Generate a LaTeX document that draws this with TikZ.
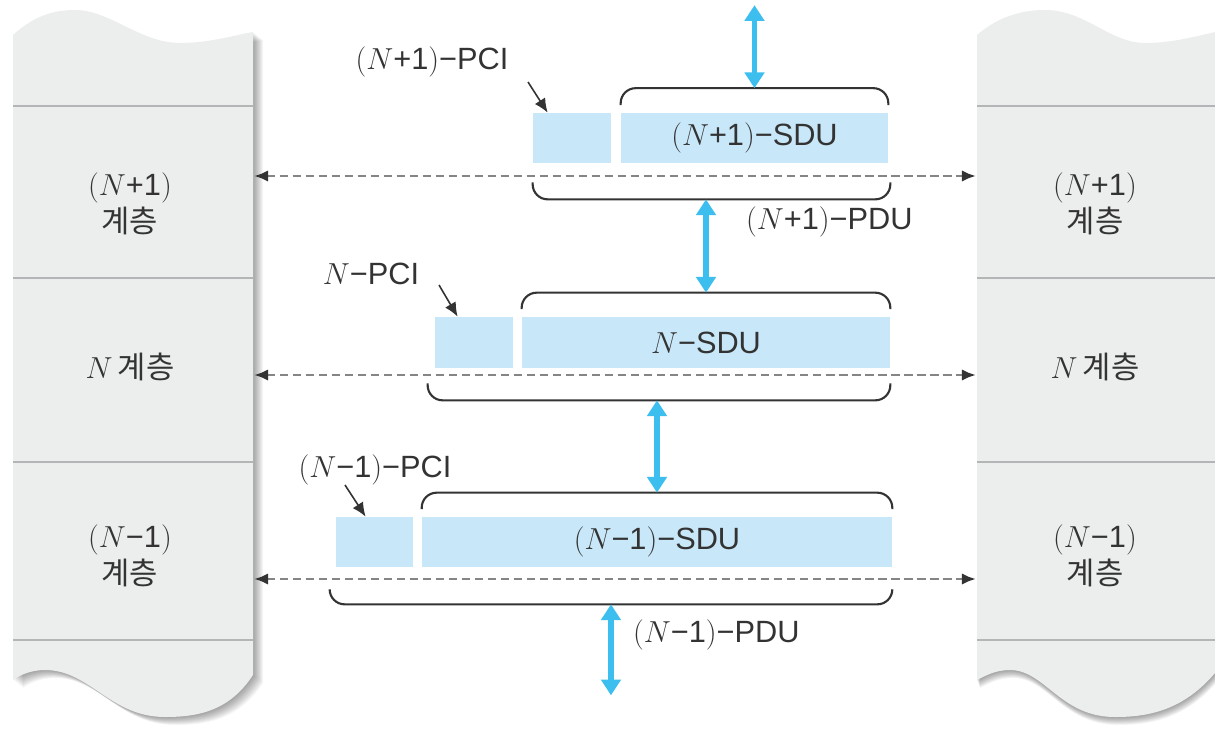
\documentclass[tikz,border=0pt]{standalone}
\usepackage{fontspec}
\setmainfont{Liberation Sans}
\newfontfamily\kr{Noto Sans CJK KR}
\usetikzlibrary{arrows.meta,calc}

\definecolor{panelgray}{HTML}{ECEDED}
\definecolor{rulegray}{HTML}{B3B5B6}
\definecolor{pdublue}{HTML}{C8E8F9}
\definecolor{linkblue}{HTML}{3CBFEE}
\definecolor{inkgray}{HTML}{333333}
\definecolor{dashgray}{HTML}{858585}

% layer panels (x right, y down, one unit per pixel)
\newcommand\panelL{(13,35) .. controls (35,15) and (55,10) .. (75,10)
  .. controls (110,10) and (140,43) .. (180,43)
  .. controls (210,43) and (235,35) .. (253,32) -- (253,675)
  .. controls (230,710) and (200,717) .. (165,717)
  .. controls (110,717) and (90,670) .. (45,670)
  .. controls (30,670) and (18,676) .. (13,680) -- cycle}
\newcommand\panelR{(977,35) .. controls (1000,15) and (1025,10) .. (1045,10)
  .. controls (1085,10) and (1110,43) .. (1145,43)
  .. controls (1175,43) and (1200,35) .. (1225,30) -- (1225,660)
  .. controls (1190,710) and (1150,717) .. (1115,717)
  .. controls (1060,717) and (1045,670) .. (1010,670)
  .. controls (995,670) and (985,676) .. (977,680) -- cycle}

\tikzset{
  every node/.style={text=inkgray, font=\fontsize{17.5}{21}\selectfont},
  layer/.style={align=center},
  databox/.style={fill=pdublue, minimum height=1cm, inner sep=0pt},
  brace/.style={draw=black!80, line width=1.2pt, rounded corners=0.3cm},
  peer/.style={dashgray, line width=1.6pt, dash pattern=on 5pt off 2.4pt,
    {Latex[color=inkgray,length=8pt,width=6.5pt]}-{Latex[color=inkgray,length=8pt,width=6.5pt]}},
  service/.style={linkblue, line width=3pt,
    {Triangle[length=9pt,width=11pt]}-{Triangle[length=9pt,width=11pt]}},
  pointer/.style={inkgray, line width=0.9pt, -{Latex[length=8pt,width=7pt]}},
}

\begin{document}
\begin{tikzpicture}[x=0.02cm, y=-0.02cm]
\clip (0,0) rectangle (1215,728);
\fill[white] (0,0) rectangle (1215,728);

% panels with soft shadow
\foreach \s in {1,...,10}{
  \fill[black, opacity=0.04, shift={(\s,0.8*\s)}] \panelL;
  \fill[black, opacity=0.04, shift={(0.3*\s,0.8*\s)}] \panelR;
}
\fill[panelgray] \panelL;
\fill[panelgray] \panelR;
\foreach \y in {106,278,462,640}{
  \draw[rulegray, line width=1.3pt] (13,\y) -- (253,\y);
  \draw[rulegray, line width=1.3pt] (977,\y) -- (1215,\y);
}

% layer names
\node[layer] (lup) at (130,204) {$(N$+1$)$\\{\kr 계층}};
\node (lmid) at (130,367) {$N$\,{\kr 계층}};
\node[layer] (llow) at (130,556) {$(N$−1$)$\\{\kr 계층}};
\node[layer] (rup) at (1095,204) {$(N$+1$)$\\{\kr 계층}};
\node (rmid) at (1095,367) {$N$\,{\kr 계층}};
\node[layer] (rlow) at (1095,556) {$(N$−1$)$\\{\kr 계층}};

% data units
\node[databox, minimum width=1.56cm] (pci1) at (572,138) {};
\node[databox, minimum width=5.34cm] (sdu1) at (754.5,138) {$(N$+1$)$−SDU};
\node[databox, minimum width=1.56cm, minimum height=1.02cm] (pci2) at (474,342.5) {};
\node[databox, minimum width=7.36cm, minimum height=1.02cm] (sdu2) at (706,342.5) {$N$−SDU};
\node[databox, minimum width=1.54cm] (pci3) at (374.5,542) {};
\node[databox, minimum width=9.4cm] (sdu3) at (657,542) {$(N$−1$)$−SDU};

% SDU braces
\draw[brace] ([yshift=0.15cm]sdu1.north west) |- ([yshift=0.49cm]sdu1.north) -| ([yshift=0.15cm]sdu1.north east);
\draw[brace] ([yshift=0.15cm]sdu2.north west) |- ([yshift=0.48cm]sdu2.north) -| ([yshift=0.15cm]sdu2.north east);
\draw[brace] ([yshift=0.15cm]sdu3.north west) |- ([yshift=0.48cm]sdu3.north) -| ([yshift=0.15cm]sdu3.north east);

% PDU braces
\draw[brace] ([yshift=-0.38cm]pci1.south west) |- ([yshift=-0.72cm]sdu1.south) -| ([xshift=0.04cm,yshift=-0.38cm]sdu1.south east);
\draw[brace] ([xshift=-0.14cm,yshift=-0.3cm]pci2.south west) |- ([yshift=-0.64cm]sdu2.south) -| ([yshift=-0.3cm]sdu2.south east);
\draw[brace] ([xshift=-0.12cm,yshift=-0.46cm]pci3.south west) |- ([yshift=-0.74cm]sdu3.south) -| ([yshift=-0.46cm]sdu3.south east);
\coordinate (pdu1) at ([yshift=-0.72cm]sdu1.south);
\coordinate (pdu2) at ([yshift=-0.64cm]sdu2.south);
\coordinate (pdu3) at ($([xshift=-0.12cm,yshift=-0.74cm]pci3.south west)!0.5!([yshift=-0.74cm]sdu3.south east)$);

% peer protocols
\coordinate (lp1) at (254,176);  \coordinate (rp1) at (976,176);
\coordinate (lp2) at (254,375);  \coordinate (rp2) at (976,375);
\coordinate (lp3) at (254,579);  \coordinate (rp3) at (976,579);
\draw[peer] (lp1) -- (rp1);
\draw[peer] (lp2) -- (rp2);
\draw[peer] (lp3) -- (rp3);

% service interfaces
\draw[service] ([yshift=0.49cm]sdu1.north) -- ++(0,-83);
\draw[service] (sdu2.north |- pdu1) -- ([yshift=0.48cm]sdu2.north);
\draw[service] (sdu3.north |- pdu2) -- ([yshift=0.48cm]sdu3.north);
\draw[service] (pdu3) -- ++(0,91);

% PCI labels
\node (pcil1) at (432,62) {$(N$+1$)$−PCI};
\node (pcil2) at (371,274) {$N$−PCI};
\node (pcil3) at (375,470) {$(N$−1$)$−PCI};
\coordinate (pcit1) at (528,82);
\coordinate (pcit2) at (439,285);
\coordinate (pcit3) at (345,485);
\draw[pointer] (pcit1) -- ([xshift=0.3cm]pci1.north west);
\draw[pointer] (pcit2) -- ([xshift=0.46cm]pci2.north west);
\draw[pointer] (pcit3) -- ([xshift=0.6cm]pci3.north west);

% PDU labels
\node[anchor=west] (pdul1) at (740,222) {$(N$+1$)$−PDU};
\node[anchor=west] (pdul3) at (627,635) {$(N$−1$)$−PDU};
\end{tikzpicture}
\end{document}
